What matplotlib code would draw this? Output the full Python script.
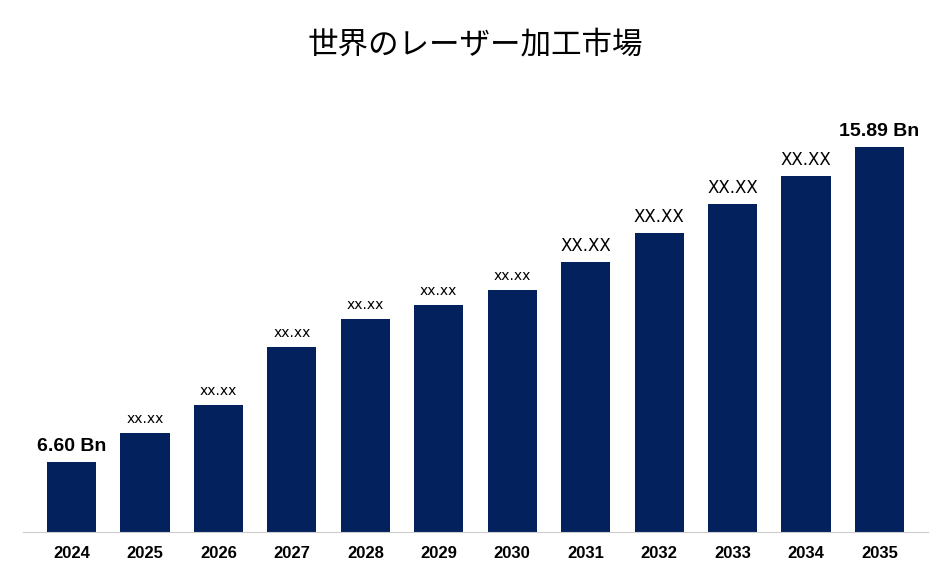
import matplotlib
matplotlib.use("Agg")
import matplotlib.pyplot as plt

years = ["2024","2025","2026","2027","2028","2029","2030","2031","2032","2033","2034","2035"]
values = [6.60, 7.46, 8.28, 9.99, 10.82, 11.23, 11.67, 12.50, 13.35, 14.21, 15.03, 15.89]
labels = ["6.60 Bn","xx.xx","xx.xx","xx.xx","xx.xx","xx.xx","xx.xx","XX.XX","XX.XX","XX.XX","XX.XX","15.89 Bn"]

W, H = 951, 585
fig = plt.figure(figsize=(W/100, H/100), dpi=100)
ax = fig.add_axes([23/W, 1-532/H, (928-23)/W, (532-100)/H])
ymin = 4.536
x = range(len(years))
ax.bar(x, [v - ymin for v in values], bottom=ymin, width=0.67, color="#03215c")
ax.set_ylim(ymin, 17.28)
ax.set_xlim(-0.66, len(years)-0.34)
for i, (v, l) in enumerate(zip(values, labels)):
    if i in (0, len(values)-1):
        fs, fw = 14, "bold"
    elif i >= 7:
        fs, fw = 12, "normal"
    else:
        fs, fw = 10, "normal"
    ax.text(i, v + 0.2, l, ha="center", va="bottom", fontsize=fs, fontweight=fw, family="DejaVu Sans" if fw=="normal" else "Liberation Sans")
ax.set_xticks(list(x))
ax.set_xticklabels(years, fontsize=12, fontweight="bold", family="Liberation Sans")
ax.tick_params(axis="x", length=0, pad=10)
ax.set_yticks([])
for s in ["top","right","left"]:
    ax.spines[s].set_visible(False)
ax.spines["bottom"].set_color("#cccccc")
fig.text(0.5, 1-45/H, "世界のレーザー加工市場", ha="center", va="center", fontsize=22, family="Noto Sans CJK JP")
fig.savefig("out.png", dpi=100)
